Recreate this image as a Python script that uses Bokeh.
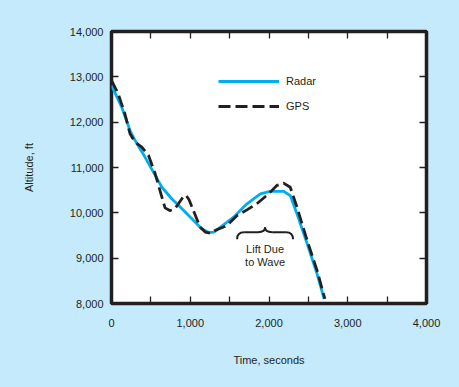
from bokeh.plotting import figure
from bokeh.models import (Range1d, LinearAxis, FixedTicker, NumeralTickFormatter,
                          Legend, LegendItem, GlobalInlineStyleSheet)
from bokeh.core.properties import value
from bokeh.embed import file_html
from bokeh.resources import INLINE

# ---- data ----
radar_t = [0, 130, 235, 300, 425, 555, 640, 765, 895, 1020, 1145, 1235, 1300,
           1380, 1550, 1720, 1890, 2015, 2185, 2270, 2355, 2485, 2610, 2700]
radar_alt = [12810, 12330, 11815, 11595, 11230, 10825, 10565, 10310, 10090, 9870,
             9650, 9565, 9575, 9680, 9905, 10200, 10420, 10475, 10475, 10380,
             9980, 9315, 8655, 8100]

gps_t = [0, 85, 170, 235, 300, 385, 470, 555, 615, 680, 740, 790, 830, 905, 945,
         985, 1040, 1125, 1190, 1255, 1315, 1465, 1595, 1720, 1845, 1995, 2100,
         2185, 2270, 2355, 2485, 2610, 2710]
gps_alt = [12920, 12625, 12185, 11745, 11560, 11450, 11265, 10860, 10495, 10110,
           10050, 10075, 10150, 10340, 10390, 10290, 10050, 9685, 9575, 9550, 9610,
           9720, 9940, 10065, 10200, 10420, 10605, 10655, 10565, 10125, 9390,
           8730, 8100]

x_ticks = [0, 1000, 2000, 3000, 4000]
x_minor = [500, 1500, 2500, 3500]
y_ticks = [8000, 9000, 10000, 11000, 12000, 13000, 14000]

series_names = ["Radar", "GPS"]
note_lines = ["Lift Due", "to Wave"]

# ---- style ----
BG = "#c4eafb"
INK = "#231f20"
BLUE = "#00aeef"
FONT = "Liberation Sans"

p = figure(output_backend="svg", toolbar_location=None,
           frame_width=315, frame_height=272,
           min_border_left=111, min_border_right=25,
           min_border_top=31, min_border_bottom=76,
           x_range=Range1d(0, 4000), y_range=Range1d(8000, 14000),
           background_fill_color="white", border_fill_color=BG,
           x_axis_type=None, y_axis_type=None)
p.stylesheets = [GlobalInlineStyleSheet(css="html, body { background-color: %s; }" % BG)]
p.grid.visible = False
p.outline_line_color = INK
p.outline_line_width = 3.5


def style_axis(ax, labels=True):
    ax.axis_line_color = None
    ax.major_tick_in = 7
    ax.major_tick_out = 0
    ax.minor_tick_in = 7
    ax.minor_tick_out = 0
    ax.major_tick_line_color = INK
    ax.minor_tick_line_color = INK
    ax.major_tick_line_width = 1.3
    ax.minor_tick_line_width = 1.3
    ax.major_label_text_font = FONT
    ax.major_label_text_font_size = "11px"
    ax.major_label_text_color = INK
    ax.axis_label_text_font = FONT
    ax.axis_label_text_font_size = "11px"
    ax.axis_label_text_font_style = "normal"
    ax.axis_label_text_color = INK
    if not labels:
        ax.major_label_text_font_size = "0px"
        ax.major_label_text_color = None


xb = LinearAxis(ticker=FixedTicker(ticks=x_ticks, minor_ticks=x_minor),
                formatter=NumeralTickFormatter(format="0,0"),
                axis_label="Time, seconds")
style_axis(xb)
xb.major_label_standoff = 15
xb.axis_label_standoff = 24
p.add_layout(xb, "below")

xt = LinearAxis(ticker=FixedTicker(ticks=x_ticks, minor_ticks=x_minor))
style_axis(xt, labels=False)
p.add_layout(xt, "above")

yl = LinearAxis(ticker=FixedTicker(ticks=y_ticks),
                formatter=NumeralTickFormatter(format="0,0"),
                axis_label="Altitude, ft")
style_axis(yl)
yl.major_label_standoff = 8
yl.axis_label_standoff = 32
p.add_layout(yl, "left")

yr = LinearAxis(ticker=FixedTicker(ticks=y_ticks))
style_axis(yr, labels=False)
p.add_layout(yr, "right")

r_radar = p.line(radar_t, radar_alt, line_color=BLUE, line_width=2.8)
r_gps = p.line(gps_t, gps_alt, line_color=INK, line_width=2.8,
               line_dash="12 5")

# ---- brace annotation ----
bx0, bxc, bx1 = 1595, 1950, 2305
by_low, by_mid, by_top = 9420, 9573, 9680
bw = 90
p.quadratic(x0=[bx0, bxc - bw, bxc + bw, bx1], y0=[by_low, by_mid, by_mid, by_low],
            x1=[bx0 + bw, bxc, bxc, bx1 - bw], y1=[by_mid, by_top, by_top, by_mid],
            cx=[bx0, bxc, bxc, bx1], cy=[by_mid, by_mid, by_mid, by_mid],
            line_color=INK, line_width=2)
p.segment(x0=[bx0 + bw, bxc + bw], y0=[by_mid, by_mid],
          x1=[bxc - bw, bx1 - bw], y1=[by_mid, by_mid],
          line_color=INK, line_width=2)
p.text(x=[bxc, bxc], y=[9206, 8911], text=note_lines,
       text_font=value(FONT), text_font_size="11px", text_color=INK,
       text_align="center", text_baseline="middle")

legend = Legend(items=[LegendItem(label=series_names[0], renderers=[r_radar]),
                       LegendItem(label=series_names[1], renderers=[r_gps])],
                location=(107, 187), orientation="vertical",
                glyph_width=61, glyph_height=20, label_height=20, spacing=5,
                label_standoff=7, padding=0, margin=0,
                border_line_color=None, background_fill_alpha=0,
                label_text_font=FONT, label_text_font_size="11px",
                label_text_color=INK)
p.add_layout(legend, "center")

open("out.html", "w").write(file_html(p, INLINE))
